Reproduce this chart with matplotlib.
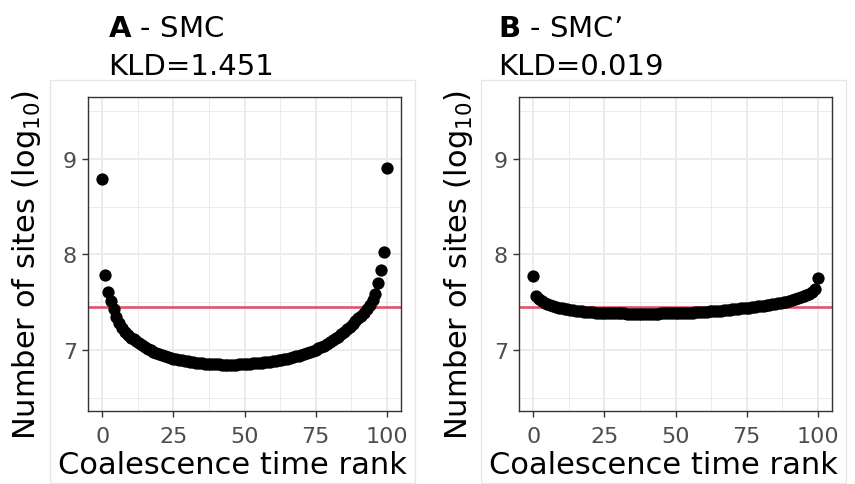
import numpy as np
import matplotlib
matplotlib.use('Agg')
import matplotlib.pyplot as plt
from matplotlib.patches import Rectangle

# coalescence time ranks
ranks = list(range(0, 101))

# number of sites (log10) per rank, panel A (SMC)
smc_sites = [
    8.79, 7.79, 7.61, 7.51, 7.43, 7.35, 7.28, 7.23, 7.19, 7.16,
    7.13, 7.11, 7.09, 7.07, 7.05, 7.03, 7.01, 7.00, 6.98, 6.97,
    6.955, 6.945, 6.935, 6.925, 6.915, 6.91, 6.90, 6.895, 6.89, 6.885,
    6.88, 6.875, 6.87, 6.865, 6.86, 6.86, 6.855, 6.855, 6.85, 6.85,
    6.85, 6.848, 6.846, 6.845, 6.845, 6.845, 6.845, 6.846, 6.848, 6.85,
    6.852, 6.854, 6.856, 6.858, 6.86, 6.863, 6.866, 6.87, 6.874, 6.878,
    6.882, 6.887, 6.892, 6.898, 6.904, 6.91, 6.917, 6.924, 6.932, 6.94,
    6.95, 6.96, 6.97, 6.98, 6.99, 7.00, 7.015, 7.03, 7.045, 7.06,
    7.08, 7.10, 7.12, 7.14, 7.165, 7.19, 7.215, 7.24, 7.27, 7.30,
    7.33, 7.36, 7.39, 7.43, 7.47, 7.52, 7.59, 7.70, 7.84, 8.03,
    8.91,
]

# panel B (SMC')
smcp_sites = [
    7.775, 7.56, 7.53, 7.51, 7.495, 7.48, 7.47, 7.46, 7.45, 7.44,
    7.435, 7.43, 7.425, 7.42, 7.415, 7.41, 7.407, 7.404, 7.40, 7.398,
    7.396, 7.394, 7.392, 7.39, 7.388, 7.387, 7.386, 7.385, 7.384, 7.383,
    7.383, 7.382, 7.382, 7.381, 7.381, 7.381, 7.38, 7.38, 7.38, 7.38,
    7.38, 7.38, 7.381, 7.381, 7.381, 7.382, 7.382, 7.383, 7.383, 7.384,
    7.385, 7.386, 7.387, 7.388, 7.389, 7.39, 7.392, 7.394, 7.396, 7.398,
    7.40, 7.402, 7.404, 7.406, 7.408, 7.41, 7.413, 7.416, 7.419, 7.422,
    7.425, 7.428, 7.431, 7.434, 7.437, 7.44, 7.444, 7.448, 7.452, 7.456,
    7.46, 7.465, 7.47, 7.475, 7.48, 7.485, 7.49, 7.495, 7.50, 7.507,
    7.514, 7.522, 7.53, 7.54, 7.55, 7.56, 7.575, 7.59, 7.61, 7.635,
    7.75,
]

expected = 7.45  # uniform expectation (log10)
panel_labels = ['A', 'B']
panel_models = ['SMC', 'SMC\u2019']
kld_values = ['1.451', '0.019']
x_ticks = [0, 25, 50, 75, 100]
y_ticks = [7, 8, 9]

W, H = 855, 485
fig = plt.figure(figsize=(W / 100, H / 100), dpi=100)


def fx(px):
    return px / W


def fy(py):
    return 1 - py / H


panels = [
    dict(ax_left=88, border=(50, 81, 415, 484), title_x=108, ylab_x=27, data=smc_sites),
    dict(ax_left=519, border=(481, 81, 846, 484), title_x=498, ylab_x=458, data=smcp_sites),
]

ax_w, ax_top, ax_bot = 313, 98, 412

for i, p in enumerate(panels):
    # light outer border around each sub-plot
    x0, y0, x1, y1 = p['border']
    fig.patches.append(Rectangle((fx(x0), fy(y1)), fx(x1 - x0), (y1 - y0) / H,
                                 transform=fig.transFigure, fill=False,
                                 edgecolor='#E6E6E6', linewidth=1.0, zorder=0))

    ax = fig.add_axes([fx(p['ax_left']), fy(ax_bot), fx(ax_w), (ax_bot - ax_top) / H])
    ax.set_facecolor('white')
    ax.set_xlim(-5, 105)
    ax.set_ylim(6.36, 9.65)
    ax.set_xticks(x_ticks)
    ax.set_yticks(y_ticks)
    ax.set_xticks([12.5, 37.5, 62.5, 87.5], minor=True)
    ax.set_yticks([6.5, 7.5, 8.5, 9.5], minor=True)
    ax.grid(True, which='major', color='#EBEBEB', linewidth=1.4)
    ax.grid(True, which='minor', color='#EBEBEB', linewidth=0.7)
    ax.set_axisbelow(True)
    ax.tick_params(which='major', length=4, width=1.0, color='#333333',
                   labelcolor='#4D4D4D', labelsize=16, pad=4)
    ax.tick_params(axis='x', which='major', pad=7)
    ax.tick_params(which='minor', length=0)
    for s in ax.spines.values():
        s.set_color('#333333')
        s.set_linewidth(1.0)

    ax.axhline(expected, color='#DF536B', linewidth=1.9, zorder=2)
    ax.scatter(ranks, p['data'], s=78, color='black', linewidths=0, zorder=3)

    # axis titles, centred on the sub-plot area as in ggplot
    fig.text(fx((x0 + x1) / 2), fy(466), 'Coalescence time rank',
             fontsize=22, ha='center', va='center', zorder=5)
    fig.text(fx(p['ylab_x']), fy((ax_top + ax_bot) / 2 + 10), r'Number of sites (log$_{10}$)',
             rotation=90, fontsize=22, ha='center', va='center')

    fig.text(fx(p['title_x']), fy(37), r'$\mathbf{%s}$ - %s' % (panel_labels[i], panel_models[i]),
             fontsize=21, ha='left', va='baseline')
    fig.text(fx(p['title_x']), fy(75), 'KLD=' + kld_values[i],
             fontsize=21, ha='left', va='baseline')

fig.savefig('out.png', dpi=100)
